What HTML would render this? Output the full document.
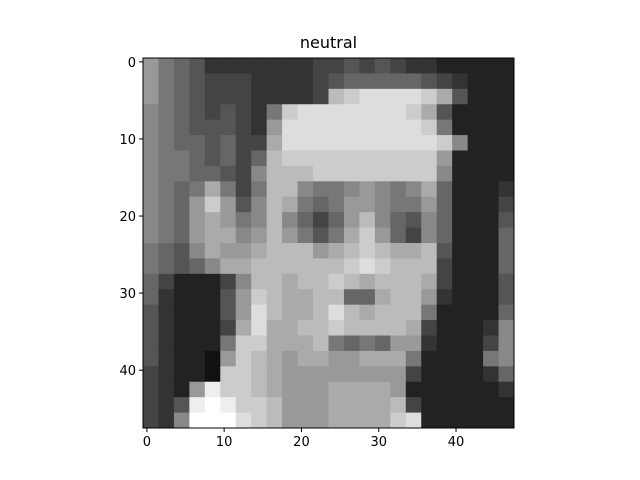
<!DOCTYPE html>
<html><head><meta charset="utf-8"><style>
html,body{margin:0;padding:0;background:#fff}
svg{display:block;font-family:"DejaVu Sans","Liberation Sans",sans-serif}
</style></head><body>
<svg id="chart" width="640" height="480" viewBox="0 0 640 480">
<rect width="640" height="480" fill="#fff"/>
<text x="328.5" y="48" text-anchor="middle" font-size="16" fill="#000">neutral</text>
<g id="cells"></g>
<g id="axes"></g>
</svg>
<script>
// Grayscale values (hex 0-f), each entry covers a 2x2 block of the 48x48 image
const imageRows = [
"976533333334454543322222",
"976544433334566666543222",
"976544433334bcddddca5222",
"876545437cdddddddca52222",
"876555439dddddddddc72222",
"87665644addddddddddc8222",
"87765646bcccccccccc92222",
"87766548bbbcccccccc82222",
"8767a747bb87789878a62223",
"8769c958ba76799877962224",
"8769a978b86469b865862225",
"8769aa89b9757ac964862226",
"7658a99abbb9abcbaab52226",
"76568aabbbbbbcdcbbb42226",
"6422248bbabbcbabbba42225",
"6322259cbaabb66abb932225",
"5322259dbaabdbabbb722226",
"532224adaabbcbbbba422238",
"532227ccaaab767699322248",
"532219cba9aa99aaa7222278",
"43221ccba999999994222236",
"4329eccba999aaaa92222223",
"435efeccb999aaaab4222222",
"438fffdcb999aaaacd222222"
];
const xTicks = [0,10,20,30,40];
const yTicks = [0,10,20,30,40];
const imgSize = 48;
const blockSize = 2;

const X0 = 143, X1 = 514, Y0 = 58, Y1 = 428;
const xs = v => X0 + (v + 0.5) / imgSize * (X1 - X0);
const ys = v => Y0 + (v + 0.5) / imgSize * (Y1 - Y0);
const NS = "http://www.w3.org/2000/svg";
const cells = document.getElementById("cells");
imageRows.forEach((row, r) => {
  const vals = row.split("");
  vals.forEach((ch, c) => {
    const g = parseInt(ch, 16) * 17;
    const px = c * blockSize - 0.5, py = r * blockSize - 0.5;
    const rect = document.createElementNS(NS, "rect");
    
    
    rect.setAttribute("x", xs(px));
    rect.setAttribute("y", ys(py));
    rect.setAttribute("width", xs(px + blockSize) - xs(px) + 0.4);
    rect.setAttribute("height", ys(py + blockSize) - ys(py) + 0.4);
    rect.setAttribute("fill", `rgb(${g},${g},${g})`);
    cells.appendChild(rect);
  });
});
const axes = document.getElementById("axes");
const frame = document.createElementNS(NS, "rect");


frame.setAttribute("x", X0); frame.setAttribute("y", Y0);
frame.setAttribute("width", X1 - X0); frame.setAttribute("height", Y1 - Y0);
frame.setAttribute("fill", "none"); frame.setAttribute("stroke", "#000"); frame.setAttribute("stroke-width", "1");
axes.appendChild(frame);
xTicks.forEach(t => {
  const x = xs(t);
  const l = document.createElementNS(NS, "line");
  
  
  l.setAttribute("x1", x); l.setAttribute("x2", x); l.setAttribute("y1", Y1); l.setAttribute("y2", Y1 + 4);
  l.setAttribute("stroke", "#000");
  axes.appendChild(l);
  const tx = document.createElementNS(NS, "text");
  
  
  tx.setAttribute("x", x); tx.setAttribute("y", Y1 + 18);
  tx.setAttribute("text-anchor", "middle"); tx.setAttribute("font-size", "13");
  tx.textContent = t;
  axes.appendChild(tx);
});
yTicks.forEach(t => {
  const y = ys(t);
  const l = document.createElementNS(NS, "line");
  
  
  l.setAttribute("x1", X0 - 4); l.setAttribute("x2", X0); l.setAttribute("y1", y); l.setAttribute("y2", y);
  l.setAttribute("stroke", "#000");
  axes.appendChild(l);
  const tx = document.createElementNS(NS, "text");
  
  
  tx.setAttribute("x", X0 - 7); tx.setAttribute("y", y + 5);
  tx.setAttribute("text-anchor", "end"); tx.setAttribute("font-size", "13");
  tx.textContent = t;
  axes.appendChild(tx);
});
</script>
</body></html>
